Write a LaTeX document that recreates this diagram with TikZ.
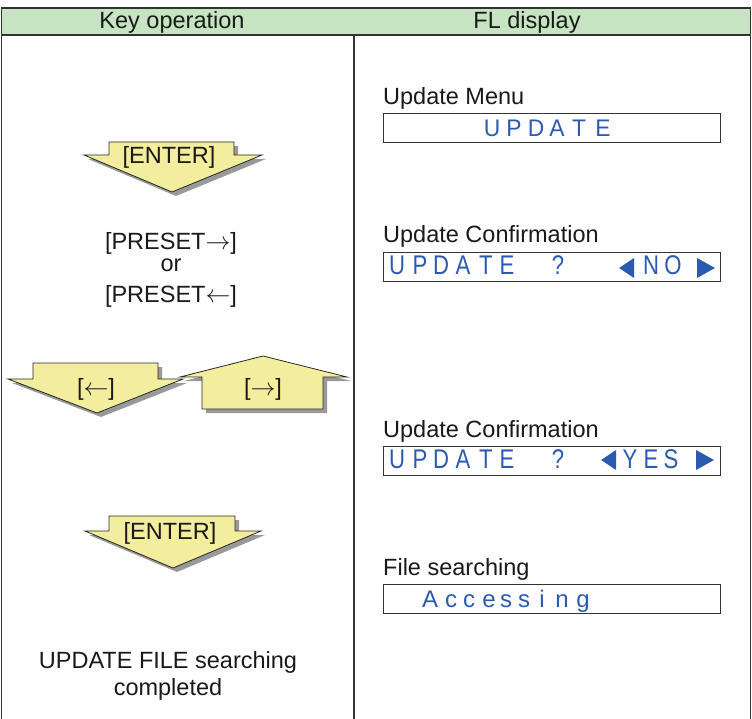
\documentclass[tikz,border=0pt]{standalone}
\usepackage{fontspec}
\setmainfont{Liberation Sans}
\definecolor{hdrgreen}{HTML}{C6E4C2}
\definecolor{keyyellow}{HTML}{F2EE9E}
\definecolor{dispblue}{HTML}{2B5BB0}
\definecolor{framegray}{HTML}{333333}
\newcommand\keyarrow[1]{%
  \fill[black!40, shift={(4,4)}] #1;
  \filldraw[fill=keyyellow, draw=black!85, line width=0.8pt] #1;}
\newcommand\dispchars[5]{%
  \foreach \px/\ch in {#5}
    \node[dch, font=\fontsize{#3}{#3}\selectfont] (#1-\px) at (\px,#2) {\scalebox{#4}[1]{\ch}};}
\begin{document}
\begin{tikzpicture}[x=1pt,y=-1pt,
  frame/.style={draw=framegray, line width=1.1pt},
  txt/.style={inner sep=0pt, font=\fontsize{23.5}{28}\selectfont, text=black!90},
  lbl/.style={txt, anchor=base west},
  ctr/.style={txt, anchor=base},
  dbox/.style={draw=framegray, line width=1pt, minimum width=337, minimum height=29, inner sep=0pt},
  dch/.style={inner sep=0pt, anchor=base, text=dispblue},
  tri/.style={fill=dispblue}]
\useasboundingbox (0,0) rectangle (752,719);
% table
\fill[hdrgreen] (1.5,8) rectangle (750.5,35);
\draw[frame] (1.5,719) -- (1.5,8) -- (750.5,8) -- (750.5,719);
\draw[frame] (1.5,35) -- (750.5,35);
\draw[frame] (354,35) -- (354,719);
\node[ctr] (h1) at (172,29) {Key operation};
\node[ctr] (h2) at (527,29) {FL display};
% key arrows
\keyarrow{(109,142) -- (234,142) -- (234,155) -- (262,155) -- (172,192) -- (84,155) -- (109,155) -- cycle}
\node[ctr] (enter1) at (169,164) {[ENTER]};
\keyarrow{(109,516) -- (235,516) -- (235,531) -- (261,531) -- (173,568) -- (85,531) -- (109,531) -- cycle}
\node[ctr] (enter2) at (170,539) {[ENTER]};
\keyarrow{(33,363) -- (158,363) -- (158,379) -- (183,379) -- (97,413) -- (8,379) -- (33,379) -- cycle}
\node[ctr] (left) at (96,395) {[$\leftarrow$]};
\keyarrow{(263,356) -- (347,377) -- (323,377) -- (323,409) -- (202,409) -- (202,377) -- (180,377) -- cycle}
\node[ctr] (right) at (263,395) {[$\rightarrow$]};
% left texts
\node[ctr] (p1) at (171,250) {[PRESET$\rightarrow$]};
\node[ctr] (or) at (171,272) {or};
\node[ctr] (p2) at (171,302) {[PRESET$\leftarrow$]};
\node[ctr] (done1) at (168,668) {UPDATE FILE searching};
\node[ctr] (done2) at (168,695) {completed};
% right labels
\node[lbl] (l1) at (383,105) {Update Menu};
\node[lbl] (l2) at (383,243) {Update Confirmation};
\node[lbl] (l3) at (383,437) {Update Confirmation};
\node[lbl] (l4) at (383,575) {File searching};
% display boxes
\node[dbox] (box1) at (551.5,128) {};
\node[dbox] (box2) at (551.5,267.5) {};
\node[dbox] (box3) at (551.5,460.5) {};
\node[dbox] (box4) at (551.5,599) {};
\dispchars{b1}{137}{24}{0.95}{492/U,514/P,536/D,557/A,579/T,603/E}
\dispchars{b2}{275}{27}{0.82}{397/U,420/P,441/D,463/A,486/T,507/E,558/?,651/N,673/O}
\dispchars{b3}{468}{27}{0.82}{397/U,420/P,441/D,463/A,486/T,507/E,558/?,630/Y,651/E,671/S}
\dispchars{b4}{607}{24}{1}{430/A,451/c,469/c,489/e,506/s,524/s,542/i,562/n,583/g}
\fill[tri] (619,268) -- (634,258) -- (634,278) -- cycle;
\fill[tri] (715,268) -- (697,258) -- (697,278) -- cycle;
\fill[tri] (601,460) -- (616,450) -- (616,470) -- cycle;
\fill[tri] (714,460) -- (696,450) -- (696,470) -- cycle;
\end{tikzpicture}
\end{document}
